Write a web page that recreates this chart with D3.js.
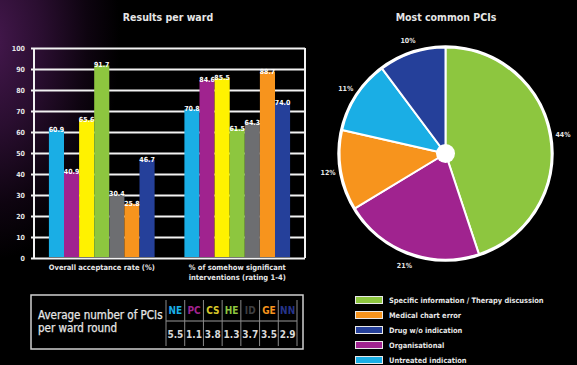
<!DOCTYPE html>
<html>
<head>
<meta charset="utf-8">
<script src="https://cdn.jsdelivr.net/npm/d3@7"></script>
<style>
  html, body { margin: 0; padding: 0; background: #000; }
  svg { display: block; }
  text { font-family: "DejaVu Sans Condensed", "Liberation Sans Narrow", "DejaVu Sans", sans-serif; }
</style>
</head>
<body>
<svg id="chart" width="577" height="365"></svg>
<script>
// Wards and their colours
const wards = ["NE", "PC", "CS", "HE", "ID", "GE", "NN"];
const wardColors = ["#1aaee5", "#a0238f", "#fff200", "#8dc63f", "#6d6e71", "#f7941d", "#25409a"];
const headerColors = ["#1aaee5", "#a0238f", "#d8c92a", "#8dc63f", "#3e3e40", "#f7941d", "#26348a"];

// Bar groups and values (%)
const groups = ["Overall acceptance rate (%)", "% of somehow significant\ninterventions (rating 1-4)"];
const acceptance = [60.9, 40.9, 65.6, 91.7, 30.4, 25.8, 46.7];
const significant = [70.8, 84.6, 85.5, 61.5, 64.3, 88.7, 74.0];
const yTicks = [0, 10, 20, 30, 40, 50, 60, 70, 80, 90, 100];

// Average PCIs per ward round
const pcisPerRound = ["5.5", "1.1", "3.8", "1.3", "3.7", "3.5", "2.9"];

// Most common PCIs (share, %)
const pciTypes = ["Specific information / Therapy discussion", "Organisational", "Medical chart error", "Untreated indication", "Drug w/o indication"];
const pciShares = [44, 21, 12, 11, 10];
const pciColors = ["#8dc63f", "#a0238f", "#f7941d", "#1aaee5", "#25409a"];
const legendOrder = ["Specific information / Therapy discussion", "Medical chart error", "Drug w/o indication", "Organisational", "Untreated indication"];

const svg = d3.select("#chart");
const W = 577, H = 365;

// background with a purple glow along the top-left edge
const defs = svg.append("defs");
const glow = defs.append("radialGradient").attr("id", "glow")
  .attr("gradientUnits", "userSpaceOnUse")
  .attr("cx", -10).attr("cy", 40).attr("r", 100)
  .attr("gradientTransform", "translate(-10,40) scale(1.3,2.2) translate(10,-40)");
glow.append("stop").attr("offset", "0%").attr("stop-color", "#45184e");
glow.append("stop").attr("offset", "40%").attr("stop-color", "#2a0e30");
glow.append("stop").attr("offset", "75%").attr("stop-color", "#0e0410");
glow.append("stop").attr("offset", "100%").attr("stop-color", "#000");
svg.append("rect").attr("width", W).attr("height", H).attr("fill", "#000");
svg.append("rect").attr("width", W).attr("height", H).attr("fill", "url(#glow)");

const textCol = "#e6e6e6";

// ---------- Bar chart ----------
svg.append("text").attr("x", 168).attr("y", 21).attr("text-anchor", "middle")
  .attr("fill", textCol).attr("font-size", 10.5).attr("font-weight", "bold").text("Results per ward");

const plot = { left: 34, right: 305, top: 48, bottom: 258 };
const y = d3.scaleLinear().domain([0, 100]).range([plot.bottom, plot.top]);
const x0 = d3.scaleBand().domain(groups).range([plot.left, plot.right]).paddingInner(0.22).paddingOuter(0.11);
const x1 = d3.scaleBand().domain(wards).range([0, x0.bandwidth()]);

// gridlines
const yAxis = d3.axisLeft(y).tickValues(yTicks).tickSize(-(plot.right - plot.left + 3)).tickPadding(6);
const gy = svg.append("g").attr("transform", `translate(${plot.left - 3},0)`).call(yAxis);
gy.select(".domain").remove();
gy.selectAll(".tick line").attr("stroke", "#f2f2f2").attr("stroke-width", 2);
gy.selectAll(".tick text").attr("fill", textCol).attr("font-size", 7).attr("font-weight", "bold")
  .attr("font-family", "DejaVu Sans Condensed, sans-serif");

// frame sides
svg.append("line").attr("x1", plot.left).attr("x2", plot.left).attr("y1", plot.top).attr("y2", plot.bottom)
  .attr("stroke", "#f2f2f2").attr("stroke-width", 2);
svg.append("line").attr("x1", plot.right).attr("x2", plot.right).attr("y1", plot.top).attr("y2", plot.bottom)
  .attr("stroke", "#f2f2f2").attr("stroke-width", 2);

const series = [acceptance, significant];
groups.forEach((g, gi) => {
  const gEl = svg.append("g").attr("transform", `translate(${x0(g)},0)`);
  gEl.selectAll("rect").data(series[gi]).join("rect")
    .attr("x", (d, i) => x1(wards[i]))
    .attr("width", x1.bandwidth())
    .attr("y", d => y(d))
    .attr("height", d => y(0) - y(d) - 1)
    .attr("fill", (d, i) => wardColors[i]);
  gEl.selectAll("text").data(series[gi]).join("text")
    .attr("x", (d, i) => x1(wards[i]) + x1.bandwidth() / 2)
    .attr("y", d => y(d) + 2)
    .attr("text-anchor", "middle")
    .attr("fill", "#fff").attr("font-size", 7).attr("font-weight", "bold")
    .text(d => d.toFixed(1));
});

// group labels
groups.forEach(g => {
  const t = svg.append("text").attr("text-anchor", "middle").attr("fill", textCol)
    .attr("font-size", 7.5).attr("font-weight", "bold");
  g.split("\n").forEach((line, li) => {
    t.append("tspan").attr("x", x0(g) + x0.bandwidth() / 2).attr("y", 270 + li * 10).text(line);
  });
});

// ---------- Table ----------
const tbl = { left: 31, right: 303, top: 295, bottom: 349 };
svg.append("rect").attr("x", tbl.left).attr("y", tbl.top).attr("width", tbl.right - tbl.left).attr("height", tbl.bottom - tbl.top)
  .attr("fill", "none").attr("stroke", "#cfcfcf").attr("stroke-width", 1.5);
svg.append("text").attr("x", 38).attr("y", 319).attr("fill", textCol).attr("font-size", 11.5)
  .attr("stroke", textCol).attr("stroke-width", 0.25)
  .text("Average number of PCIs");
svg.append("text").attr("x", 38).attr("y", 332).attr("fill", textCol).attr("font-size", 11.5)
  .attr("stroke", textCol).attr("stroke-width", 0.25)
  .text("per ward round");

const cx = d3.scaleBand().domain(wards).range([166, 297]);
svg.append("line").attr("x1", 166).attr("x2", 297).attr("y1", 321).attr("y2", 321)
  .attr("stroke", "#9a9a9a").attr("stroke-width", 1);
wards.concat(["end"]).forEach((w, i) => {
  const xx = i < wards.length ? cx(w) : 297;
  svg.append("line").attr("x1", xx).attr("x2", xx).attr("y1", 300).attr("y2", 346)
    .attr("stroke", "#8a8a8a").attr("stroke-width", 1);
});
svg.selectAll(".hdr").data(wards).join("text").attr("class", "hdr")
  .attr("x", d => cx(d) + cx.bandwidth() / 2).attr("y", 314)
  .attr("text-anchor", "middle").attr("font-size", 10).attr("font-weight", "bold")
  .attr("fill", (d, i) => headerColors[i]).text(d => d);
svg.selectAll(".val").data(pcisPerRound).join("text").attr("class", "val")
  .attr("x", (d, i) => cx(wards[i]) + cx.bandwidth() / 2).attr("y", 338)
  .attr("text-anchor", "middle").attr("font-size", 10).attr("font-weight", "bold")
  .attr("fill", "#d8d8d8").text(d => d);

// ---------- Pie ----------
svg.append("text").attr("x", 446).attr("y", 21).attr("text-anchor", "middle")
  .attr("fill", textCol).attr("font-size", 10.5).attr("font-weight", "bold").text("Most common PCIs");

const pieC = { x: 445.5, y: 153.5, r: 106 };
const pie = d3.pie().sort(null).value(d => d);
const arcs = pie(pciShares);
const arc = d3.arc().innerRadius(0).outerRadius(pieC.r);
const labelArc = d3.arc().innerRadius(119).outerRadius(119);
const gp = svg.append("g").attr("transform", `translate(${pieC.x},${pieC.y})`);
gp.selectAll("path").data(arcs).join("path")
  .attr("d", arc).attr("fill", (d, i) => pciColors[i])
  .attr("stroke", "#fff").attr("stroke-width", 2).attr("stroke-linejoin", "round");
gp.append("circle").attr("r", 107).attr("fill", "none").attr("stroke", "#fff").attr("stroke-width", 2.5);
gp.append("circle").attr("r", 9.5).attr("fill", "#fff");
gp.selectAll(".pl").data(arcs).join("text").attr("class", "pl")
  .attr("transform", d => `translate(${labelArc.centroid(d)})`)
  .attr("text-anchor", "middle").attr("dy", "0.35em")
  .attr("fill", textCol).attr("font-size", 7).attr("font-weight", "bold")
  .text(d => d.data + "%");

// legend
const lg = svg.append("g");
legendOrder.forEach((name, i) => {
  const col = pciColors[pciTypes.indexOf(name)];
  const yy = 300 + i * 15;
  lg.append("rect").attr("x", 355.5).attr("y", yy - 3.5).attr("width", 27).attr("height", 7)
    .attr("fill", col).attr("stroke", "#e8e8e8").attr("stroke-width", 1);
  lg.append("text").attr("x", 389).attr("y", yy).attr("dy", "0.35em")
    .attr("fill", textCol).attr("font-size", 7.4).attr("font-weight", "bold").text(name);
});
</script>
</body>
</html>
